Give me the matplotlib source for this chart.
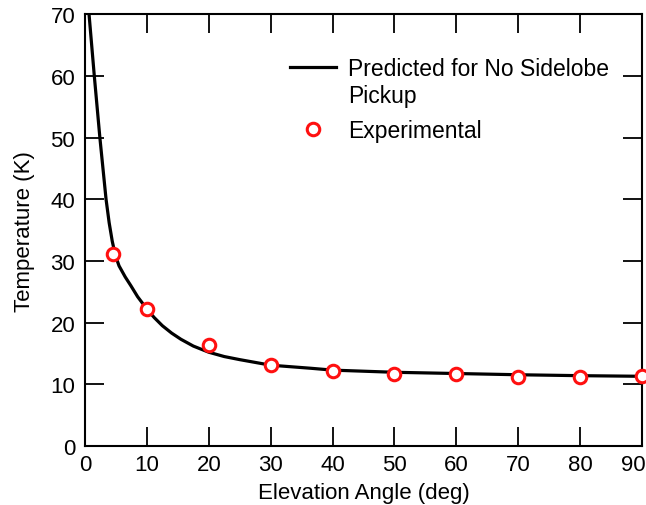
import numpy as np
import matplotlib
matplotlib.use('Agg')
import matplotlib.pyplot as plt
from matplotlib.lines import Line2D
from matplotlib.transforms import ScaledTranslation

plt.rcParams['font.family'] = ['Liberation Sans', 'DejaVu Sans']

# predicted curve (deg, K)
pred_angle = [0.3, 0.65, 1.5, 2.4, 3.4, 3.9, 4.4, 4.9, 5.5, 6.5, 7.4, 8.5,
              10, 11.2, 12.5, 14, 15.5, 17.5, 20, 22.5, 25, 30, 36.5, 40,
              50, 60, 70, 80, 90]
pred_temp = [76, 70, 60, 50, 40, 36.2, 33.2, 30.9, 29.2, 27.4, 26.0, 24.2,
             22.2, 20.8, 19.5, 18.3, 17.3, 16.2, 15.2, 14.5, 14.0, 13.1,
             12.6, 12.3, 11.95, 11.75, 11.55, 11.4, 11.3]

# experimental points
exp_angle = [4.6, 10, 20, 30, 40, 50, 60, 70, 80, 90]
exp_temp = [31.1, 22.2, 16.4, 13.1, 12.2, 11.7, 11.6, 11.2, 11.2, 11.3]

xticks = [0, 10, 20, 30, 40, 50, 60, 70, 80, 90]
yticks = [0, 10, 20, 30, 40, 50, 60, 70]

fig = plt.figure(figsize=(6.46, 5.06), dpi=100)
ax = fig.add_axes([0.1316, 0.1166, 0.8622, 0.8534])

ax.plot(pred_angle, pred_temp, color='black', lw=2.3)
ax.plot(exp_angle, exp_temp, 'o', mfc='white', mec='#ff1010', mew=2.2,
        ms=9, clip_on=False, zorder=5)

ax.set_xlim(0, 90)
ax.set_ylim(0, 70)
ax.set_xticks(xticks)
ax.set_yticks(yticks)
for s in ax.spines.values():
    s.set_linewidth(1.5)
ax.tick_params(direction='in', length=14, width=1.3, top=True, right=True,
               labelsize=16, pad=7)
ax.tick_params(axis='x', pad=6)

# the last x label sits a bit left of its tick, as in the original
last = ax.get_xticklabels()[-1]
last.set_transform(last.get_transform() +
                   ScaledTranslation(-9 / 100, 0, fig.dpi_scale_trans))

ax.set_xlabel('Elevation Angle (deg)', fontsize=16, labelpad=5)
ax.set_ylabel('Temperature (K)', fontsize=16, labelpad=11)

# legend drawn as two pieces so the line sits beside the first text line
h1 = [Line2D([], [], color='black', lw=2.3),
      Line2D([], [], linestyle='none')]
leg1 = ax.legend(h1, ['Predicted for No Sidelobe', 'Pickup'],
                 loc='upper left', bbox_to_anchor=(290 / 646, 1 - 58 / 506),
                 bbox_transform=fig.transFigure, frameon=False, fontsize=16.5,
                 handlelength=2.0, handletextpad=0.55, labelspacing=0.16,
                 borderpad=0, borderaxespad=0)
ax.add_artist(leg1)
h2 = [Line2D([], [], marker='o', linestyle='none', mfc='white',
             mec='#ff1010', mew=2.2, ms=9)]
ax.legend(h2, ['Experimental'], loc='upper left',
          bbox_to_anchor=(290 / 646, 1 - 120 / 506),
          bbox_transform=fig.transFigure, frameon=False, fontsize=16.5,
          handlelength=2.0, handletextpad=0.55, borderpad=0, borderaxespad=0)

plt.savefig('out.png', dpi=100)
